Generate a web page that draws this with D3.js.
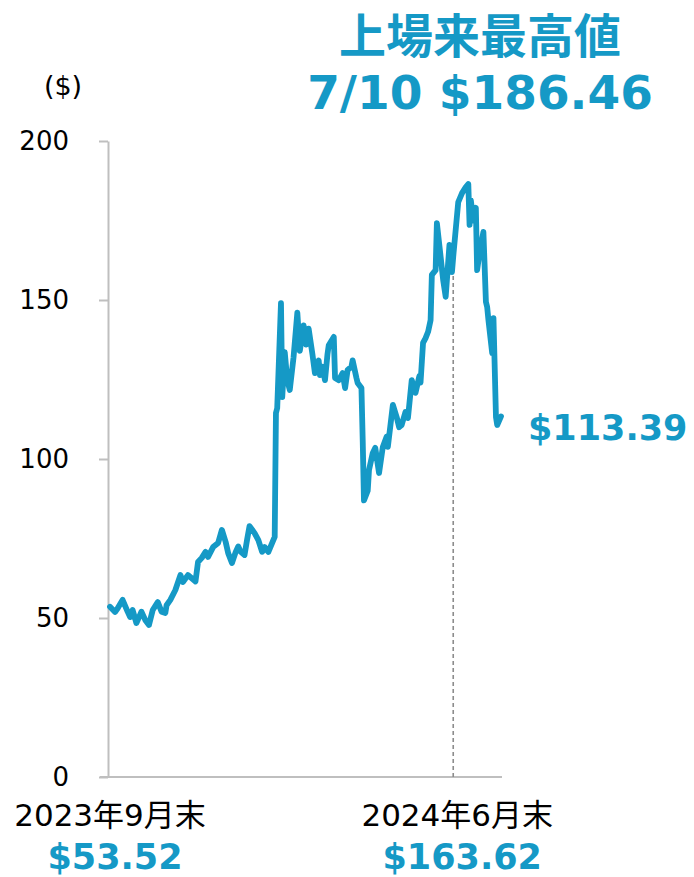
<!DOCTYPE html>
<html>
<head>
<meta charset="utf-8">
<script src="https://cdn.jsdelivr.net/npm/d3@7"></script>
<style>
  html, body { margin: 0; padding: 0; background: #fff; }
  svg { display: block; }
</style>
</head>
<body>
<svg id="chart" width="694" height="877"></svg>
<script>
// daily closes
const dates = [
  "2023-09-29","2023-10-03","2023-10-05","2023-10-09","2023-10-13","2023-10-15","2023-10-17","2023-10-20",
  "2023-10-24","2023-10-27","2023-10-30","2023-11-02","2023-11-06","2023-11-09","2023-11-12","2023-11-13",
  "2023-11-16","2023-11-20","2023-11-24","2023-11-26","2023-11-30","2023-12-03","2023-12-06","2023-12-08",
  "2023-12-11","2023-12-14","2023-12-16","2023-12-20","2023-12-24","2023-12-27","2023-12-30","2024-01-01",
  "2024-01-04","2024-01-07","2024-01-09","2024-01-11","2024-01-14","2024-01-16","2024-01-18","2024-01-22",
  "2024-01-25","2024-01-28","2024-01-30","2024-02-02","2024-02-05","2024-02-07","2024-02-08","2024-02-09",
  "2024-02-12","2024-02-13","2024-02-15","2024-02-17","2024-02-19","2024-02-22","2024-02-25","2024-02-27",
  "2024-03-01","2024-03-03","2024-03-05","2024-03-08","2024-03-10","2024-03-13","2024-03-14","2024-03-16",
  "2024-03-18","2024-03-20","2024-03-21","2024-03-25","2024-03-26","2024-03-29","2024-04-01","2024-04-03",
  "2024-04-05","2024-04-08","2024-04-09","2024-04-12","2024-04-13","2024-04-16","2024-04-17","2024-04-18",
  "2024-04-21","2024-04-22","2024-04-25","2024-04-27","2024-04-30","2024-05-03","2024-05-06","2024-05-07",
  "2024-05-11","2024-05-14","2024-05-16","2024-05-18","2024-05-21","2024-05-23","2024-05-26","2024-05-29",
  "2024-06-01","2024-06-02","2024-06-04","2024-06-06","2024-06-08","2024-06-10","2024-06-11","2024-06-14",
  "2024-06-15","2024-06-18","2024-06-20","2024-06-22","2024-06-25","2024-06-27","2024-06-28","2024-07-02",
  "2024-07-05","2024-07-08","2024-07-10","2024-07-11","2024-07-12","2024-07-14","2024-07-16","2024-07-17",
  "2024-07-19","2024-07-22","2024-07-24","2024-07-25","2024-07-26","2024-07-29","2024-07-30","2024-08-01",
  "2024-08-02","2024-08-05"
];
const prices = [
  53.52, 51.9, 53.0, 55.7, 52.0, 50.3, 52.5, 48.4,
  52.0, 49.4, 47.8, 52.5, 55.0, 52.0, 51.6, 54.0,
  55.7, 58.8, 63.5, 61.3, 63.5, 62.5, 61.5, 67.6,
  68.9, 70.8, 69.2, 72.3, 73.6, 77.7, 73.9, 70.4,
  67.3, 70.8, 72.5, 70.8, 69.8, 74.5, 78.9, 76.7,
  74.5, 70.8, 72.3, 70.8, 73.6, 75.5, 114.5, 116.0,
  149.0, 119.5, 133.6, 124.8, 121.7, 132.0, 146.0, 134.0,
  142.0, 136.0, 141.0, 133.0, 127.0, 131.0, 126.4, 129.0,
  124.8, 133.0, 135.8, 138.4, 125.5, 124.8, 127.0, 122.3,
  128.0, 129.0, 131.0, 125.5, 123.9, 122.3, 106.0, 87.0,
  90.0, 96.5, 101.9, 103.5, 95.6, 103.8, 107.0, 103.8,
  117.0, 113.2, 110.0, 110.7, 114.8, 112.9, 124.8, 120.8,
  126.0, 124.0, 136.5, 138.0, 140.0, 143.7, 157.9, 159.4,
  174.2, 163.5, 156.3, 151.0, 167.3, 158.8, 163.62, 180.8,
  183.6, 185.5, 186.46, 173.6, 181.4, 175.0, 179.0, 159.4,
  165.0, 171.4, 149.4, 147.8, 143.7, 133.3, 144.3, 113.2,
  110.7, 113.39
];

const yTicks = [0, 50, 100, 150, 200];
const markDates = ["2023-09-29", "2024-06-28"];
const markLabels = ["2023年9月末", "2024年6月末"];
const markPrices = ["$53.52", "$163.62"];
const peakTitle = "上場来最高値";
const peakLabel = "7/10 $186.46";
const lastLabel = "$113.39";
const unitLabel = "($)";

const blue = "#1599c6";
const axisGrey = "#bfbfbf";
const numFont = "'DejaVu Sans', 'Noto Sans CJK JP', sans-serif";

const parse = d3.timeParse("%Y-%m-%d");
const data = dates.map((d, i) => ({ date: parse(d), value: prices[i] }));

const svg = d3.select("#chart");

const x = d3.scaleTime()
  .domain(d3.extent(data, d => d.date))
  .range([110, 501]);
const y = d3.scaleLinear()
  .domain([0, 200])
  .range([777, 141]);

// y axis
const yAxis = svg.append("g")
  .attr("transform", "translate(108,0)")
  .call(d3.axisLeft(y).tickValues(yTicks).tickSize(9).tickSizeOuter(0).tickPadding(30));
yAxis.select(".domain").attr("stroke", axisGrey).attr("stroke-width", 2);
yAxis.selectAll(".tick line").attr("stroke", axisGrey).attr("stroke-width", 2);
yAxis.selectAll(".tick text")
  .attr("fill", "#000")
  .style("font-family", numFont)
  .style("font-size", "26px");

// x baseline
svg.append("line")
  .attr("x1", x.range()[0] - 10).attr("x2", x.range()[1] + 1)
  .attr("y1", y(0)).attr("y2", y(0))
  .attr("stroke", axisGrey).attr("stroke-width", 2);

// unit
svg.append("text")
  .attr("x", 63).attr("y", 95)
  .attr("text-anchor", "middle")
  .style("font-family", numFont)
  .style("font-size", "27px")
  .text(unitLabel);

// dashed marker at end of June
const june = data.find(d => +d.date === +parse(markDates[1]));
svg.append("line")
  .attr("x1", x(june.date)).attr("x2", x(june.date))
  .attr("y1", y(0)).attr("y2", y(june.value))
  .attr("stroke", "#8c8c8c").attr("stroke-width", 1.6)
  .attr("stroke-dasharray", "4,3");

// price line
const line = d3.line()
  .x(d => x(d.date))
  .y(d => y(d.value));
svg.append("path")
  .datum(data)
  .attr("d", line)
  .attr("fill", "none")
  .attr("stroke", blue)
  .attr("stroke-width", 5.8)
  .attr("stroke-linejoin", "round")
  .attr("stroke-linecap", "round");

// date labels and prices under the axis
markDates.forEach((d, i) => {
  const cx = x(parse(d)) + (i === 0 ? 0 : 4);
  svg.append("text")
    .attr("x", cx).attr("y", 826)
    .attr("text-anchor", "middle")
    .style("font-family", numFont)
    .style("font-size", "31px")
    .text(markLabels[i]);
  svg.append("text")
    .attr("x", cx + 5).attr("y", 869)
    .attr("text-anchor", "middle")
    .attr("fill", blue)
    .style("font-family", numFont)
    .style("font-size", "35px")
    .style("font-weight", "bold")
    .text(markPrices[i]);
});

// last value
const last = data[data.length - 1];
svg.append("text")
  .attr("x", x(last.date) + 27).attr("y", y(last.value) + 24)
  .attr("fill", blue)
  .style("font-family", numFont)
  .style("font-size", "35px")
  .style("font-weight", "bold")
  .text(lastLabel);

// all-time high headline
svg.append("text")
  .attr("x", 480).attr("y", 53)
  .attr("text-anchor", "middle")
  .attr("fill", blue)
  .style("font-family", "'Noto Sans CJK JP', sans-serif")
  .style("font-size", "47px")
  .style("font-weight", "bold")
  .text(peakTitle);
svg.append("text")
  .attr("x", 480).attr("y", 109)
  .attr("text-anchor", "middle")
  .attr("fill", blue)
  .style("font-family", numFont)
  .style("font-size", "47px")
  .style("font-weight", "bold")
  .text(peakLabel);
</script>
</body>
</html>
